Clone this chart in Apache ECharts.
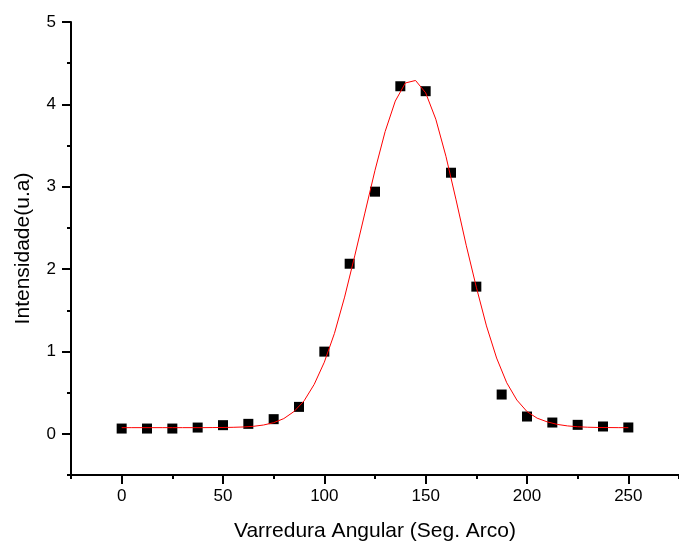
<!DOCTYPE html>
<html>
<head>
<meta charset="utf-8">
<script src="https://cdn.jsdelivr.net/npm/echarts@6/dist/echarts.min.js"></script>
<style>html,body{margin:0;padding:0;background:#fff}#c{width:679px;height:547px}</style>
</head>
<body>
<div id="c"></div>
<script>
// Measured data points
var pointX = [0, 12.5, 25, 37.5, 50, 62.5, 75, 87.5, 100, 112.5, 125, 137.5, 150, 162.5, 175, 187.5, 200, 212.5, 225, 237.5, 250];
var pointY = [0.064, 0.064, 0.064, 0.076, 0.105, 0.121, 0.178, 0.327, 0.998, 2.065, 2.94, 4.22, 4.16, 3.17, 1.787, 0.477, 0.21, 0.137, 0.109, 0.089, 0.077];
// Fitted curve
var curveX = [0,5,10,15,20,25,30,35,40,45,50,55,60,65,70,75,80,85,90,95,100,105,110,115,120,125,130,135,140,145,150,155,160,165,170,175,180,185,190,195,200,205,210,215,220,225,230,235,240,245,250];
var curveY = [0.075,0.075,0.075,0.075,0.075,0.075,0.075,0.075,0.075,0.076,0.077,0.079,0.083,0.091,0.107,0.135,0.185,0.27,0.40,0.60,0.87,1.22,1.66,2.16,2.68,3.20,3.67,4.04,4.26,4.29,4.14,3.82,3.37,2.84,2.29,1.78,1.31,0.92,0.62,0.41,0.27,0.19,0.145,0.114,0.096,0.086,0.080,0.077,0.076,0.075,0.075];
// Axis ticks
var xMajor = [0, 50, 100, 150, 200, 250];
var yMajor = [0, 1, 2, 3, 4, 5];

var FONT = 'Liberation Sans, Arial, sans-serif';
var chart = echarts.init(document.getElementById('c'));
var axisLineStyle = {color: '#000', width: 2};
chart.setOption({
  animation: false,
  grid: {left: 71, right: -7, top: 22, bottom: 71, containLabel: false},
  xAxis: [
    {
      type: 'value', min: -25, max: 275, position: 'bottom',
      name: 'Varredura Angular (Seg. Arco)', nameLocation: 'middle', nameGap: 46,
      nameTextStyle: {fontFamily: FONT, fontSize: 21, color: '#000'},
      axisLine: {show: true, onZero: false, lineStyle: axisLineStyle},
      axisTick: {show: true, customValues: xMajor, length: 9, lineStyle: axisLineStyle},
      axisLabel: {show: true, customValues: xMajor, margin: 13, fontFamily: FONT, fontSize: 17, color: '#000'},
      splitLine: {show: false}
    },
    {
      type: 'value', min: -25, max: 275, interval: 25, position: 'bottom', offset: 0,
      axisLine: {show: false, onZero: false},
      axisTick: {show: true, length: 4, lineStyle: axisLineStyle},
      axisLabel: {show: false},
      splitLine: {show: false}
    }
  ],
  yAxis: [
    {
      type: 'value', min: -0.5, max: 5, position: 'left',
      name: 'Intensidade(u.a)', nameLocation: 'middle', nameGap: 37, nameRotate: 90,
      nameTextStyle: {fontFamily: FONT, fontSize: 21, color: '#000'},
      axisLine: {show: true, onZero: false, lineStyle: axisLineStyle},
      axisTick: {show: true, customValues: yMajor, length: 9, lineStyle: axisLineStyle},
      axisLabel: {show: true, customValues: yMajor, margin: 15, fontFamily: FONT, fontSize: 17, color: '#000'},
      splitLine: {show: false}
    },
    {
      type: 'value', min: -0.5, max: 5, interval: 0.5, position: 'left', offset: 0,
      axisLine: {show: false, onZero: false},
      axisTick: {show: true, length: 4, lineStyle: axisLineStyle},
      axisLabel: {show: false},
      splitLine: {show: false}
    }
  ],
  series: [
    {
      type: 'scatter', xAxisIndex: 0, yAxisIndex: 0,
      symbol: 'rect', symbolSize: 10,
      itemStyle: {color: '#000', opacity: 1},
      data: pointX.map(function (x, i) { return [x, pointY[i]]; }),
      z: 2
    },
    {
      type: 'line', xAxisIndex: 0, yAxisIndex: 0,
      showSymbol: false, symbol: 'none', smooth: false,
      lineStyle: {color: '#ff0000', width: 1},
      data: curveX.map(function (x, i) { return [x, curveY[i]]; }),
      z: 3
    }
  ]
});
</script>
</body>
</html>
